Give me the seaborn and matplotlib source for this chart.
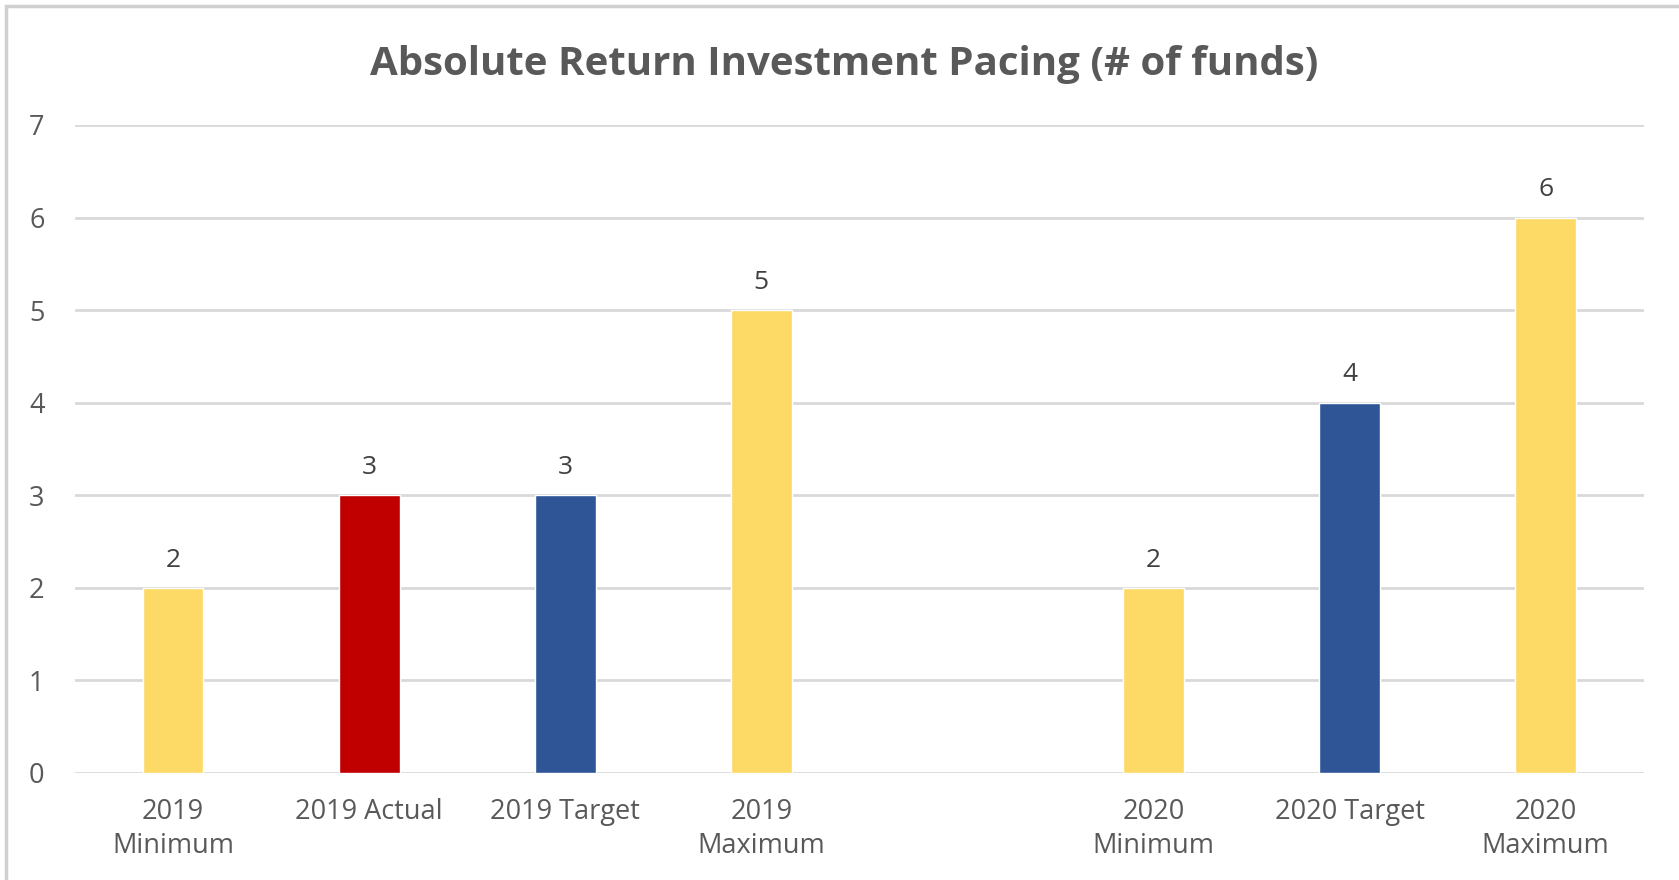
import matplotlib
matplotlib.use("Agg")
import matplotlib.pyplot as plt
import seaborn as sns
import pandas as pd
from matplotlib.patches import Rectangle

categories = ["2019\nMinimum", "2019 Actual", "2019 Target", "2019\nMaximum",
              "2020\nMinimum", "2020 Target", "2020\nMaximum"]
values = [2, 3, 3, 5, 2, 4, 6]
kinds = ["range", "actual", "target", "range", "range", "target", "range"]
slot_order = ["2019\nMinimum", "2019 Actual", "2019 Target", "2019\nMaximum", " ",
              "2020\nMinimum", "2020 Target", "2020\nMaximum"]
title = "Absolute Return Investment Pacing (# of funds)"
yticks = [0, 1, 2, 3, 4, 5, 6, 7]

kind_colors = {"range": "#FDD966", "actual": "#C00000", "target": "#2F5597"}

sns.set_theme(style="white")
plt.rcParams["font.family"] = ["Open Sans", "DejaVu Sans"]

df = pd.DataFrame({"cat": categories, "val": values, "kind": kinds})
palette = {c: kind_colors[k] for c, k in zip(categories, kinds)}

fig = plt.figure(figsize=(16.79, 8.8), dpi=100)
ax = fig.add_axes([0.0447, 0.1216, 0.9343, 0.7364])

sns.barplot(data=df, x="cat", y="val", hue="cat", order=slot_order,
            palette=palette, dodge=False, width=0.31, legend=False,
            saturation=1, ax=ax, zorder=3)

ax.set_xlim(-0.5, 7.5)
ax.set_ylim(0, 7)
ax.set_yticks(yticks)
ax.yaxis.grid(True, color="#D9D9D9", linewidth=2, zorder=0)
ax.set_axisbelow(True)
for s in ax.spines.values():
    s.set_visible(False)
ax.tick_params(axis="both", length=0, labelsize=19.5, colors="#595959")
ax.tick_params(axis="y", pad=22)
ax.tick_params(axis="x", pad=18)
ax.set_xlabel("")
ax.set_ylabel("")
for lbl in ax.get_xticklabels():
    lbl.set_linespacing(1.28)

for c in ax.containers:
    ax.bar_label(c, labels=[f"{v:g}" if v == v else "" for v in c.datavalues],
                 padding=11, fontsize=19, color="#404040")

fig.text(0.503, 0.927, title, ha="center", va="center", fontsize=29,
         fontweight="bold", color="#595959")

fig.patches.append(Rectangle((0.0036, -0.1), 1.2, 1.093, transform=fig.transFigure,
                             fill=False, edgecolor="#D0D0D0", linewidth=2.5))

fig.savefig("out.png", dpi=100, facecolor="white")
